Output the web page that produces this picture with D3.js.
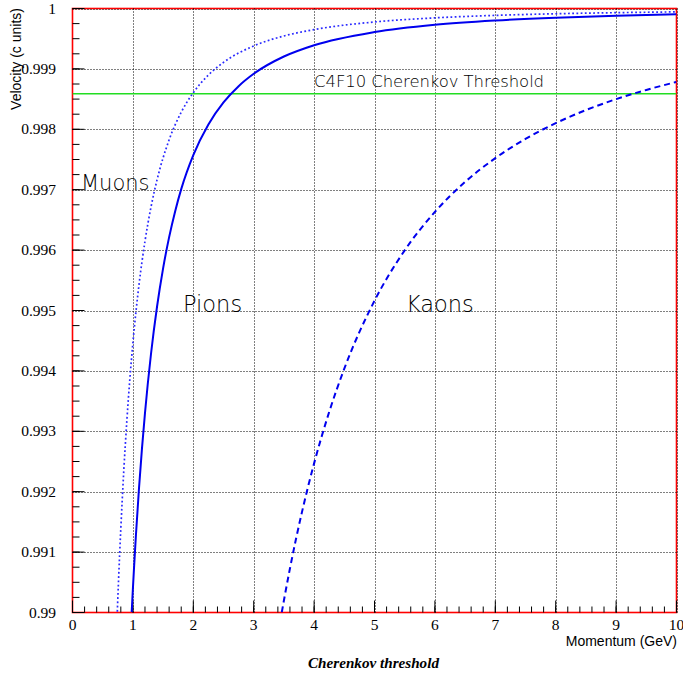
<!DOCTYPE html>
<html>
<head>
<meta charset="utf-8">
<script src="https://cdn.jsdelivr.net/npm/d3@7"></script>
<style>
html,body{margin:0;padding:0;background:#fff;overflow:hidden}
svg{display:block}
.serif{font-family:'Liberation Serif','DejaVu Serif','Times New Roman',serif}
.sans{font-family:'Liberation Sans','Arial',sans-serif}
.thin{font-family:'DejaVu Sans',sans-serif;font-weight:200}
</style>
</head>
<body>
<svg id="chart" width="683" height="675"></svg>
<script>
// ---- data ----
const xTicks = [0,1,2,3,4,5,6,7,8,9,10];
const xTickLabels = ["0","1","2","3","4","5","6","7","8","9","10"];
const yTicks = [0.99,0.991,0.992,0.993,0.994,0.995,0.996,0.997,0.998,0.999,1];
const yTickLabels = ["0.99","0.991","0.992","0.993","0.994","0.995","0.996","0.997","0.998","0.999","1"];

const muonP = [0.742,0.76,0.78,0.8,0.85,0.9,0.95,1.0,1.1,1.2,1.3,1.4,1.6,1.8,2.0,2.25,2.5,3,3.5,4,5,6,7,8,9,10];
const muonV = [0.990013,0.990474,0.990950,0.991390,0.992363,0.993179,0.993872,0.994465,0.995418,0.996146,0.996714,0.997164,0.997827,0.998282,0.998607,0.998899,0.999108,0.999380,0.999545,0.999651,0.999777,0.999845,0.999886,0.999913,0.999931,0.999944];

const pionP = [0.98,1.0,1.02,1.05,1.1,1.15,1.2,1.3,1.4,1.5,1.6,1.7,1.8,2.0,2.25,2.5,2.75,3,3.5,4,5,6,7,8,9,10];
const pionV = [0.990006,0.990396,0.990764,0.991278,0.992043,0.992713,0.993301,0.994284,0.995066,0.995698,0.996215,0.996645,0.997010,0.997573,0.998081,0.998445,0.998714,0.998919,0.999205,0.999392,0.999610,0.999730,0.999801,0.999848,0.999880,0.999903];

const kaonP = [3.465,3.5,3.6,3.7,3.8,3.9,4.0,4.25,4.5,5,5.5,6,6.5,7,7.5,8,8.5,9,9.5,10];
const kaonV = [0.990002,0.990198,0.990728,0.991216,0.991666,0.992083,0.992469,0.993321,0.994037,0.995161,0.995996,0.996632,0.997129,0.997522,0.997841,0.998102,0.998318,0.998499,0.998652,0.998784];

const thresholdV = 0.99859;
const thresholdLabel = "C4F10 Cherenkov Threshold";

const labelNames = ["Muons","Pions","Kaons"];
const labelP = [0.14,1.83,5.52];
const labelV = [0.996995,0.994975,0.994975];

// ---- drawing ----
const svg = d3.select("#chart");
const L = 72.5, R = 676.5, T = 8.5, B = 612.5;
const x = d3.scaleLinear().domain([0,10]).range([L,R]);
const y = d3.scaleLinear().domain([0.99,1]).range([B,T]);

const defs = svg.append("defs");
defs.append("clipPath").attr("id","plotclip")
  .append("rect").attr("x",L).attr("y",T).attr("width",R-L).attr("height",B-T);

// frame
svg.append("rect").attr("x",L).attr("y",T).attr("width",R-L).attr("height",B-T)
  .attr("fill","none").attr("stroke","#ff0000").attr("stroke-width",1.6);

// grid (dotted)
const grid = svg.append("g").attr("stroke","#000").attr("stroke-width",1).attr("stroke-dasharray","1,2");
grid.selectAll("line.gx").data(xTicks.slice(1)).join("line")
  .attr("x1",d=>Math.round(x(d))+0.5).attr("x2",d=>Math.round(x(d))+0.5).attr("y1",T).attr("y2",B);
grid.selectAll("line.gy").data(yTicks.slice(1)).join("line")
  .attr("y1",d=>Math.round(y(d))+0.5).attr("y2",d=>Math.round(y(d))+0.5).attr("x1",L).attr("x2",R);

// axes with inside ticks
const xMinor = d3.range(0,10.0001,0.2);
const yMinor = d3.range(0.99,1.00001,0.00025);
const axG = svg.append("g").attr("stroke","#000").attr("stroke-width",1);
axG.selectAll("line.xm").data(xMinor).join("line")
  .attr("x1",d=>x(d)).attr("x2",d=>x(d)).attr("y1",B).attr("y2",B-6);
axG.selectAll("line.xM").data(xTicks).join("line")
  .attr("x1",d=>x(d)).attr("x2",d=>x(d)).attr("y1",B).attr("y2",B-12);
axG.selectAll("line.ym").data(yMinor).join("line")
  .attr("y1",d=>y(d)).attr("y2",d=>y(d)).attr("x1",L).attr("x2",L+7);
axG.selectAll("line.yM").data(yTicks).join("line")
  .attr("y1",d=>y(d)).attr("y2",d=>y(d)).attr("x1",L).attr("x2",L+12);

// tick labels
svg.append("g").selectAll("text").data(xTicks).join("text")
  .attr("class","serif")
  .attr("x",d=>x(d)).attr("y",B+17.5).attr("text-anchor","middle")
  .attr("font-size",15.5).attr("fill","#000")
  .text((d,i)=>xTickLabels[i]);
svg.append("g").selectAll("text").data(yTicks).join("text")
  .attr("class","serif")
  .attr("x",56).attr("y",d=>y(d)+5).attr("text-anchor","end")
  .attr("font-size",15.5).attr("fill","#000")
  .text((d,i)=>yTickLabels[i]);

// axis titles
svg.append("text").attr("class","sans").attr("x",677).attr("y",646).attr("text-anchor","end")
  .attr("font-size",14).attr("fill","#000")
  .text("Momentum (GeV)");
svg.append("text").attr("class","sans").attr("transform","translate(21,8) rotate(-90)").attr("text-anchor","end")
  .attr("font-size",14).attr("fill","#000")
  .text("Velocity (c units)");
svg.append("text").attr("class","serif").attr("x",308).attr("y",668)
  .attr("font-size",15).attr("textLength",131).attr("lengthAdjust","spacingAndGlyphs")
  .attr("font-weight","bold").attr("font-style","italic").attr("fill","#000")
  .text("Cherenkov threshold");

// threshold line
const plot = svg.append("g").attr("clip-path","url(#plotclip)");
plot.append("line").attr("x1",x(0)).attr("x2",x(10)).attr("y1",y(thresholdV)).attr("y2",y(thresholdV))
  .attr("stroke","#22dd22").attr("stroke-width",1.5);

// curves
const line = d3.line().x(d=>x(d[0])).y(d=>y(d[1])).curve(d3.curveMonotoneX);
const series = [
  {p:muonP, v:muonV, dash:"1.8,2.4", w:1.7, c:"#2a2aff"},
  {p:pionP, v:pionV, dash:null, w:2, c:"#0000ee"},
  {p:kaonP, v:kaonV, dash:"6,4", w:2, c:"#0000ee"}
];
series.forEach(s=>{
  plot.append("path").datum(s.p.map((p,i)=>[p,s.v[i]]))
    .attr("d",line).attr("fill","none").attr("stroke",s.c).attr("stroke-width",s.w)
    .attr("stroke-dasharray",s.dash);
});

// annotations
svg.append("text").attr("class","thin").attr("x",x(4.0)).attr("y",y(0.9987))
  .attr("font-size",16.5)
  .attr("fill","#000").attr("textLength",230).attr("lengthAdjust","spacing")
  .text(thresholdLabel);
svg.append("g").selectAll("text").data(labelNames).join("text")
  .attr("class","thin")
  .attr("x",(d,i)=>x(labelP[i])).attr("y",(d,i)=>y(labelV[i]))
  .attr("font-size",(d,i)=>i===0?21:22.5).attr("fill","#000")
  .text(d=>d);
</script>
</body>
</html>
